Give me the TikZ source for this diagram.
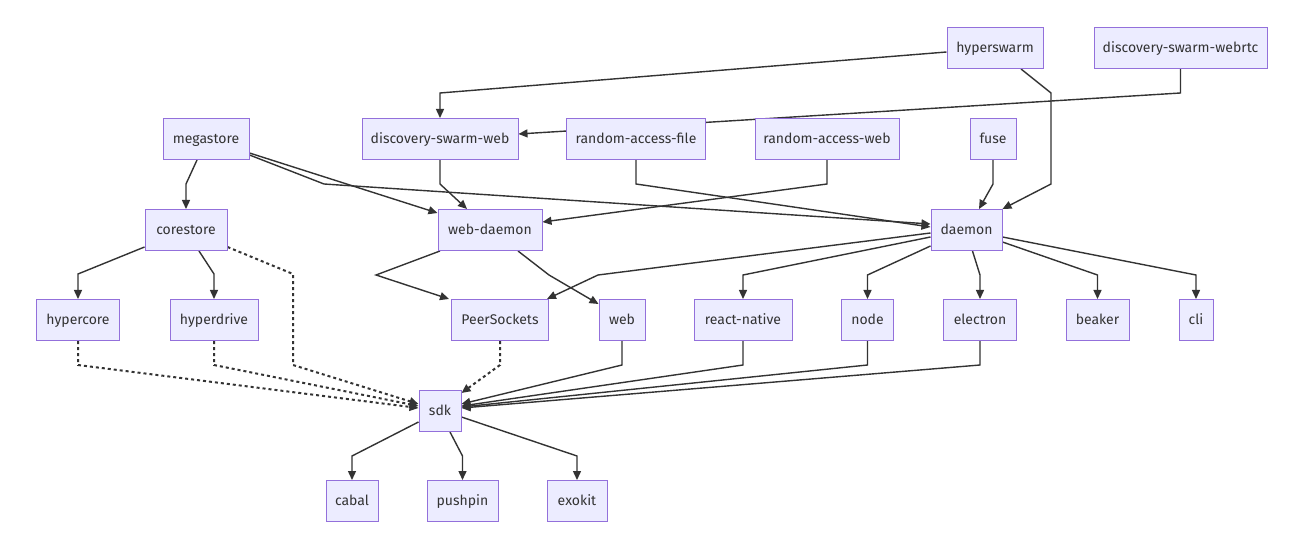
\documentclass[tikz,border=0pt]{standalone}
\usepackage{fontspec}
\setmainfont{Fira Sans}
\usetikzlibrary{arrows.meta}
\definecolor{nfill}{HTML}{ECECFF}
\definecolor{nline}{HTML}{9370DB}
\definecolor{eline}{HTML}{333333}
\pgfdeclarelayer{edgelayer}
\pgfsetlayers{edgelayer,main}
\begin{document}
\begin{tikzpicture}[x=1pt,y=-1pt,
  nb/.style={draw=nline,fill=nfill,line width=1pt,minimum height=41pt,inner sep=0pt,
    text height=12pt,text depth=2.5pt,
    text=eline,font=\fontsize{14}{16}\selectfont},
  edge/.style={draw=eline,line width=1.4pt,-{Triangle[length=9pt,width=8pt]}},
  dotedge/.style={edge,line width=2pt,dash pattern=on 3pt off 3pt},
]
\useasboundingbox (0,0) rectangle (1301,553);
\path
 (995,48)   node[nb,minimum width=96pt]  (hyperswarm) {hyperswarm}
 (1180.5,48) node[nb,minimum width=173pt] (dswrtc) {discovery-swarm-webrtc}
 (206,139)  node[nb,minimum width=86pt]  (megastore) {megastore}
 (440,139)  node[nb,minimum width=156pt] (dsw) {discovery-swarm-web}
 (636,139)  node[nb,minimum width=139pt] (raf) {random-access-file}
 (827,139)  node[nb,minimum width=144pt] (raw) {random-access-web}
 (993,139)  node[nb,minimum width=46pt]  (fuse) {fuse}
 (186,230)  node[nb,minimum width=82pt]  (corestore) {corestore}
 (490,230)  node[nb,minimum width=104pt] (wd) {web-daemon}
 (966.5,230) node[nb,minimum width=71pt] (daemon) {daemon}
 (78,320)   node[nb,minimum width=83pt]  (hypercore) {hypercore}
 (214,320)  node[nb,minimum width=88pt]  (hyperdrive) {hyperdrive}
 (500,320)  node[nb,minimum width=97pt]  (ps) {PeerSockets}
 (622,320)  node[nb,minimum width=46pt]  (web) {web}
 (743,320)  node[nb,minimum width=98pt]  (rn) {react-native}
 (867.5,320) node[nb,minimum width=52pt] (nodejs) {node}
 (980,320)  node[nb,minimum width=73pt]  (electron) {electron}
 (1097.5,320) node[nb,minimum width=63pt] (beaker) {beaker}
 (1196,320) node[nb,minimum width=34pt]  (cli) {cli}
 (440,411)  node[nb,minimum width=42pt]  (sdk) {sdk}
 (352,501)  node[nb,minimum width=52pt]  (cabal) {cabal}
 (462.5,501) node[nb,minimum width=71pt] (pushpin) {pushpin}
 (577,501)  node[nb,minimum width=60pt]  (exokit) {exokit};
\begin{pgfonlayer}{edgelayer}
\fill[white] (0,0) rectangle (1301,553);
% top rows
\draw[edge] ([yshift=-4pt]hyperswarm.west) -- (440,93) -- (dsw.north);
\draw[edge] (dswrtc.south) -- (1180.5,93) -- ([yshift=5pt]dsw.east);
\draw[edge] ([xshift=-9pt]megastore.south) -- (186,184) -- (corestore.north);
\draw[edge] ([yshift=-14pt]megastore.east) -- ([yshift=-4pt]wd.north west);
\draw[edge] ([yshift=-16pt]megastore.east) -- (324,184) -- ([yshift=6pt]daemon.west);
\draw[edge] (dsw.south) -- (440,184) -- ([xshift=-23pt]wd.north);
\draw[edge] (raf.south) -- (636,184) -- ([yshift=3pt]daemon.west);
\draw[edge] (raw.south) -- (827,184) -- ([yshift=8pt]wd.east);
\draw[edge] (fuse.south) -- (993,184) -- ([xshift=12.5pt]daemon.north);
\draw[edge] ([xshift=26pt]hyperswarm.south) -- (1051,93) -- (1051,184) -- (daemon.north east);
% corestore
\draw[edge] ([yshift=-17pt]corestore.west) -- (78,274) -- (hypercore.north);
\draw[edge] ([xshift=13pt]corestore.south) -- (214,274) -- (hyperdrive.north);
\draw[dotedge] ([yshift=-17pt]corestore.east) -- (293,274) -- (293,365) -- ([yshift=7pt]sdk.west);
\draw[dotedge] (hypercore.south) -- (78,365) -- ([yshift=3pt]sdk.west);
\draw[dotedge] (hyperdrive.south) -- (214,365) -- ([yshift=5pt]sdk.west);
% web-daemon
\draw[edge] ([xshift=-50pt]wd.south) -- (376,275) -- ([xshift=-2pt]ps.north west);
\draw[edge] ([xshift=28pt]wd.south) -- (549,275) -- ([yshift=-5pt]web.north west);
% daemon
\draw[edge] ([yshift=-3pt]daemon.west) -- (598,275) -- ([xshift=-2pt]ps.north east);
\draw[edge] ([yshift=-7pt]daemon.west) -- (743,275) -- (rn.north);
\draw[edge] ([yshift=-16pt]daemon.west) -- (867.5,275) -- (nodejs.north);
\draw[edge] ([xshift=6pt]daemon.south) -- (980,275) -- (electron.north);
\draw[edge] ([yshift=-12pt]daemon.east) -- (1097.5,275) -- (beaker.north);
\draw[edge] ([yshift=-7pt]daemon.east) -- (1196,275) -- (cli.north);
% into sdk
\draw[dotedge] (ps.south) -- (500,365) -- ([yshift=-3pt]sdk.north east);
\draw[edge] (web.south) -- (622,365) -- ([yshift=7pt]sdk.east);
\draw[edge] (rn.south) -- (743,365) -- ([yshift=5pt]sdk.east);
\draw[edge] (nodejs.south) -- (867.5,365) -- ([yshift=4pt]sdk.east);
\draw[edge] (electron.south) -- (980,365) -- ([yshift=3pt]sdk.east);
% from sdk
\draw[edge] ([yshift=-11pt]sdk.west) -- (352,456) -- (cabal.north);
\draw[edge] ([xshift=10pt]sdk.south) -- (462.5,456) -- (pushpin.north);
\draw[edge] ([yshift=-6pt]sdk.east) -- (577,456) -- (exokit.north);
\end{pgfonlayer}
\end{tikzpicture}
\end{document}
